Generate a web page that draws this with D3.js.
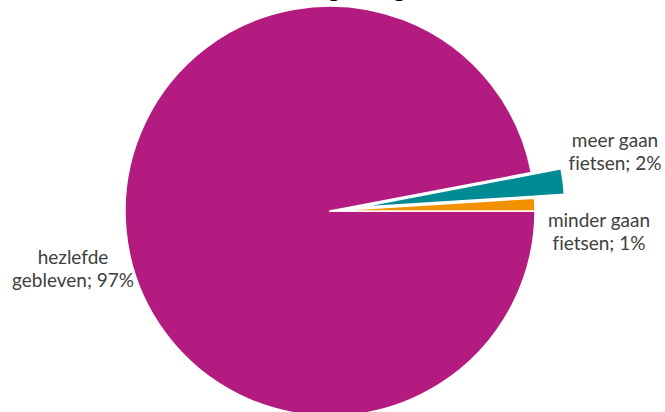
<!DOCTYPE html>
<html>
<head>
<meta charset="utf-8">
<script src="https://cdn.jsdelivr.net/npm/d3@7"></script>
<style>
  html, body { margin: 0; padding: 0; background: #fff; }
  svg { display: block; }
  text { font-variant-ligatures: none; font-feature-settings: "liga" 0; }
</style>
</head>
<body>
<svg id="chart" width="665" height="412"></svg>
<script>
const title = "Verandering fietsgebruik";
const categories = ["hezlefde gebleven", "meer gaan fietsen", "minder gaan fietsen"];
const values = [97, 2, 1];
const labelLines = [["hezlefde", "gebleven; 97%"], ["meer gaan", "fietsen; 2%"], ["minder gaan", "fietsen; 1%"]];
const colors = ["#B31B80", "#008B94", "#F29100"];
const exploded = [false, true, false];

const svg = d3.select("#chart");
const cx = 330, cy = 211, r = 205, explode = 30;

svg.append("text")
  .attr("x", 342).attr("y", -3)
  .attr("text-anchor", "middle")
  .attr("font-family", "Lato, 'Open Sans', sans-serif")
  .attr("font-weight", "bold")
  .attr("font-size", 24)
  .attr("fill", "#000")
  .text(title);

const data = categories.map((c, i) => ({ cat: c, value: values[i], lines: labelLines[i], color: colors[i], ex: exploded[i] }));

const pie = d3.pie().sort(null).value(d => d.value)
  .startAngle(Math.PI / 2).endAngle(Math.PI / 2 + 2 * Math.PI);
const arc = d3.arc().innerRadius(0).outerRadius(r);

const g = svg.append("g").attr("transform", `translate(${cx},${cy})`);
const arcs = pie(data);

g.selectAll("path").data(arcs).join("path")
  .attr("d", arc)
  .attr("fill", d => d.data.color)
  .attr("stroke", "#fff")
  .attr("stroke-width", 1.5)
  .attr("stroke-linejoin", "round")
  .attr("transform", d => {
    if (!d.data.ex) return null;
    const a = (d.startAngle + d.endAngle) / 2;
    return `translate(${Math.sin(a) * explode},${-Math.cos(a) * explode})`;
  });

// label block position: center x and first-line baseline, relative to pie center
const labelPos = [[-257, 53], [285, -64], [269, 16]];
const lineH = 23;
const labels = svg.append("g")
  .attr("font-family", "Lato, 'Open Sans', sans-serif")
  .attr("font-size", 19)
  .attr("fill", "#404040")
  .attr("text-anchor", "middle");
arcs.forEach((d, i) => {
  const t = labels.append("text")
    .attr("x", cx + labelPos[i][0])
    .attr("y", cy + labelPos[i][1]);
  d.data.lines.forEach((ln, j) => {
    t.append("tspan").attr("x", cx + labelPos[i][0]).attr("dy", j === 0 ? 0 : lineH).text(ln);
  });
});
</script>
</body>
</html>
